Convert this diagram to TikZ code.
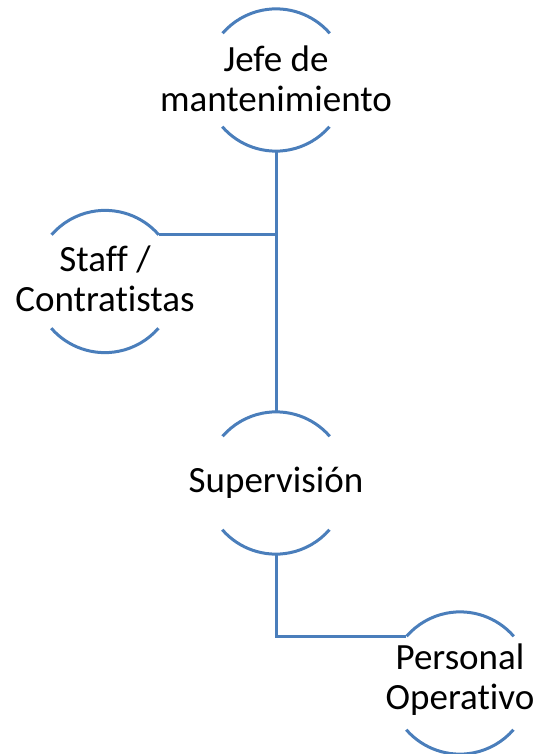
\documentclass[tikz,border=0pt]{standalone}
\usepackage{fontspec}
\setmainfont[RawFeature={-liga;-clig;-calt;-dlig}]{Carlito}
\definecolor{linkblue}{HTML}{4A7EBB}
\begin{document}
\begin{tikzpicture}[x=1pt,y=1pt,
  member/.style={circle,minimum size=142pt,inner sep=0pt},
  caption/.style={align=center,inner sep=0pt,
    font=\fontsize{37}{40}\selectfont,text=black},
  rim/.style={draw=linkblue,line width=3pt},
  link/.style={draw=linkblue,line width=3pt}]
\useasboundingbox (0,0) rectangle (536,-754);
% members of the chart (circles)
\node[member] (jefe) at (276,-80) {};
\node[member] (staff) at (105,-281.5) {};
\node[member] (sup) at (276,-483) {};
\node[member] (pers) at (460,-683) {};
% their names
\node[caption] (jefeT) at (276,-79) {Jefe de\\mantenimiento};
\node[caption] (staffT) at (105,-279) {Staff /\\Contratistas};
\node[caption] (supT) at (276,-483) {Supervisión};
\node[caption] (persT) at (460,-680) {Personal\\Operativo};
% open circles: upper and lower arcs only
\foreach \n in {jefe,staff,sup,pers}{
  \draw[rim] (\n.41) arc[start angle=41,end angle=139,radius=71pt];
  \draw[rim] (\n.221) arc[start angle=221,end angle=319,radius=71pt];
}
% connectors
\draw[link] (jefe.south) -- (sup.north);
\draw[link] (staff.41) -- (staff.41 -| jefe.south);
\draw[link] (sup.south) |- (pers.139);
\end{tikzpicture}
\end{document}
